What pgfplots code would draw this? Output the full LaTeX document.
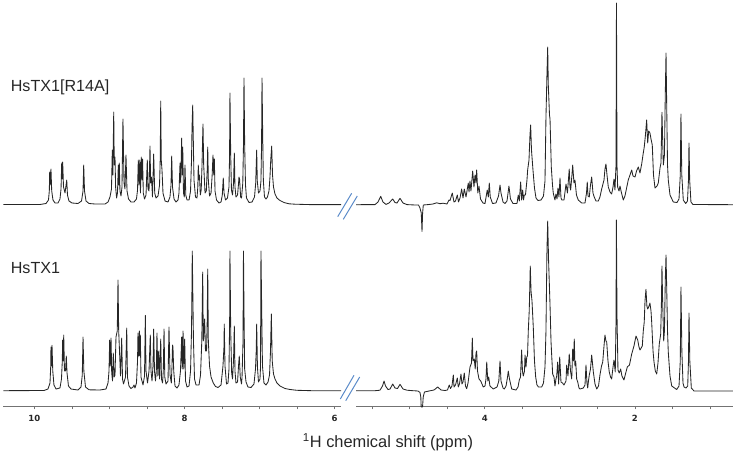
\documentclass[border=0pt]{standalone}
\usepackage{fontspec}
\setmainfont{Liberation Sans}
\newfontfamily\tickfont{DejaVu Sans}
\usepackage{pgfplots}
\usepackage{pgfplotstable}
\pgfplotsset{compat=1.18}
\definecolor{breakblue}{HTML}{5B8BC9}
% upper spectrum HsTX1[R14A]: ppm, height above its own baseline
\pgfplotstableread[row sep=\\]{
ppm h\\
10.413 0.5\\ 9.924 0.5\\ 9.844 1.5\\ 9.811 5\\ 9.800 14\\ 9.795 33\\ 9.787 20\\ 9.778 36\\ 9.768 14\\ 9.751 5\\ 9.724 2\\ 9.684 2\\
9.658 6\\ 9.644 16\\ 9.635 42\\ 9.628 26\\ 9.622 43\\ 9.611 18\\ 9.591 12\\ 9.568 25\\ 9.558 10\\ 9.538 4\\ 9.498 2\\ 9.418 1.5\\
9.371 4\\ 9.351 14\\ 9.342 40\\ 9.331 14\\ 9.311 4\\ 9.271 1.5\\ 9.191 1\\ 9.058 1\\ 9.018 3\\ 8.992 8\\ 8.972 16\\ 8.961 55\\
8.954 30\\ 8.942 93\\ 8.935 40\\ 8.925 48\\ 8.917 18\\ 8.904 7\\ 8.892 12\\ 8.881 40\\ 8.874 20\\ 8.868 42\\ 8.859 14\\ 8.845 9\\
8.832 18\\ 8.819 86\\ 8.805 22\\ 8.792 16\\ 8.779 50\\ 8.765 14\\ 8.745 6\\ 8.712 3\\ 8.672 3\\ 8.639 6\\ 8.625 15\\ 8.615 45\\
8.605 20\\ 8.595 45\\ 8.586 12\\ 8.575 48\\ 8.566 25\\ 8.558 46\\ 8.548 12\\ 8.532 6\\ 8.512 10\\ 8.495 45\\ 8.486 16\\ 8.472 14\\
8.459 59\\ 8.450 22\\ 8.439 28\\ 8.426 8\\ 8.410 51\\ 8.396 12\\ 8.379 7\\ 8.352 9\\ 8.332 20\\ 8.323 45\\ 8.316 104\\ 8.309 45\\
8.299 35\\ 8.286 12\\ 8.259 4\\ 8.219 3\\ 8.193 8\\ 8.179 20\\ 8.170 49\\ 8.159 18\\ 8.139 6\\ 8.113 3\\ 8.086 5\\ 8.073 12\\
8.059 42\\ 8.050 22\\ 8.037 67\\ 8.029 30\\ 8.023 58\\ 8.013 12\\ 8.002 8\\ 7.993 40\\ 7.982 10\\ 7.966 5\\ 7.939 5\\ 7.919 14\\
7.906 45\\ 7.899 78\\ 7.890 100\\ 7.881 60\\ 7.873 25\\ 7.853 8\\ 7.833 7\\ 7.822 18\\ 7.816 40\\ 7.806 25\\ 7.800 30\\ 7.789 10\\
7.777 15\\ 7.766 40\\ 7.757 70\\ 7.753 81\\ 7.744 40\\ 7.736 28\\ 7.726 12\\ 7.709 14\\ 7.697 35\\ 7.690 58\\ 7.682 25\\ 7.666 9\\
7.646 12\\ 7.631 30\\ 7.620 50\\ 7.610 30\\ 7.602 46\\ 7.593 14\\ 7.573 5\\ 7.540 2\\ 7.513 3\\ 7.496 10\\ 7.483 27\\ 7.473 12\\
7.453 5\\ 7.427 7\\ 7.407 18\\ 7.399 50\\ 7.394 112\\ 7.384 50\\ 7.374 15\\ 7.360 10\\ 7.346 22\\ 7.336 52\\ 7.327 18\\ 7.314 8\\
7.293 10\\ 7.279 22\\ 7.274 28\\ 7.266 26\\ 7.252 8\\ 7.240 7\\ 7.223 22\\ 7.214 60\\ 7.207 127\\ 7.198 60\\ 7.187 20\\ 7.174 7\\
7.140 2.5\\ 7.100 3\\ 7.067 8\\ 7.051 22\\ 7.044 40\\ 7.038 55\\ 7.030 24\\ 7.014 12\\ 6.994 14\\ 6.981 24\\ 6.973 60\\ 6.967 127\\
6.958 70\\ 6.949 24\\ 6.934 8\\ 6.914 6\\ 6.894 8\\ 6.874 14\\ 6.861 28\\ 6.850 46\\ 6.838 59\\ 6.827 30\\ 6.814 18\\ 6.794 11\\
6.768 7\\ 6.728 4.5\\ 6.674 2.5\\ 6.608 1.2\\ 6.528 0.8\\ 6.328 0.4\\ 5.915 0.4\\
}\upperleft
\pgfplotstableread[row sep=\\]{
ppm h\\
5.715 0.3\\ 5.462 0.4\\ 5.422 3\\ 5.386 8.7\\ 5.356 3\\ 5.316 0.6\\ 5.276 2\\ 5.226 6\\ 5.196 2.5\\ 5.169 2\\ 5.129 6.7\\ 5.089 2\\
5.036 0.4\\ 4.929 0\\ 4.883 0\\ 4.863 -3\\ 4.846 -8\\ 4.836 -26.5\\ 4.828 -8\\ 4.819 0\\ 4.756 0.4\\ 4.690 1\\ 4.640 2.2\\ 4.597 1.3\\
4.556 1.8\\ 4.503 1\\ 4.477 5\\ 4.463 4.5\\ 4.433 12\\ 4.410 3\\ 4.390 4\\ 4.366 10\\ 4.350 3\\ 4.330 7\\ 4.308 16\\ 4.290 7\\
4.273 16\\ 4.250 8\\ 4.237 14\\ 4.220 22\\ 4.210 13\\ 4.197 24\\ 4.184 14\\ 4.161 34\\ 4.144 18\\ 4.130 30\\ 4.117 22\\ 4.108 35\\
4.093 12\\ 4.077 19\\ 4.057 6\\ 4.024 2\\ 3.997 1.5\\ 3.967 15\\ 3.953 8\\ 3.940 22\\ 3.927 8\\ 3.897 1.5\\ 3.851 2\\ 3.817 9\\
3.797 20\\ 3.784 12\\ 3.757 3\\ 3.731 1.5\\ 3.704 4\\ 3.678 19\\ 3.658 6\\ 3.624 1.5\\ 3.571 1.5\\ 3.554 10\\ 3.540 4\\ 3.522 23\\
3.509 5\\ 3.495 15\\ 3.484 5\\ 3.474 10\\ 3.458 10\\ 3.438 25\\ 3.429 35\\ 3.411 45\\ 3.398 70\\ 3.389 80\\ 3.378 55\\ 3.358 35\\
3.338 17\\ 3.318 7\\ 3.291 4.5\\ 3.251 5\\ 3.218 9\\ 3.198 24\\ 3.185 88\\ 3.172 130\\ 3.162 158\\ 3.154 120\\ 3.138 90\\ 3.131 86\\
3.114 38\\ 3.098 20\\ 3.088 12\\ 3.065 5\\ 3.052 11\\ 3.038 6\\ 3.025 17\\ 3.012 8\\ 2.998 27\\ 2.985 7\\ 2.972 5\\ 2.945 5\\
2.918 21\\ 2.899 12\\ 2.875 36\\ 2.865 18\\ 2.856 15\\ 2.839 30\\ 2.829 40\\ 2.812 22\\ 2.799 25\\ 2.779 10\\ 2.755 5\\ 2.709 2\\
2.665 2\\ 2.645 12\\ 2.635 23\\ 2.625 9\\ 2.608 8\\ 2.592 20\\ 2.576 28\\ 2.559 12\\ 2.542 8\\ 2.519 4\\ 2.488 4\\ 2.466 8\\
2.443 16\\ 2.412 25\\ 2.399 36\\ 2.386 41\\ 2.372 30\\ 2.355 18\\ 2.332 13\\ 2.310 11\\ 2.292 18\\ 2.279 26\\ 2.266 15\\ 2.252 40\\
2.246 202\\ 2.239 40\\ 2.230 18\\ 2.212 14\\ 2.199 19\\ 2.179 12\\ 2.155 5\\ 2.133 9\\ 2.089 25\\ 2.066 30\\ 2.043 35\\ 2.026 29\\
1.999 28\\ 1.979 34\\ 1.955 38\\ 1.933 32\\ 1.910 41\\ 1.893 50\\ 1.876 58\\ 1.860 70\\ 1.844 85\\ 1.830 62\\ 1.817 74\\ 1.800 72\\
1.786 66\\ 1.769 60\\ 1.753 30\\ 1.733 17\\ 1.706 19\\ 1.689 22\\ 1.666 37\\ 1.653 42\\ 1.640 92.7\\ 1.622 40\\ 1.607 50\\ 1.596 110\\
1.586 152\\ 1.577 100\\ 1.566 40\\ 1.556 25\\ 1.533 10\\ 1.489 3\\ 1.440 2.5\\ 1.413 6\\ 1.396 30\\ 1.387 91\\ 1.376 30\\ 1.356 5\\
1.324 1.5\\ 1.300 4\\ 1.287 25\\ 1.280 62\\ 1.271 25\\ 1.254 3\\ 1.227 0.5\\ 0.694 0.3\\
}\upperright
% lower spectrum HsTX1
\pgfplotstableread[row sep=\\]{
ppm h\\
10.413 0.3\\ 9.871 0.5\\ 9.818 2\\ 9.791 8\\ 9.781 25\\ 9.778 44\\ 9.771 25\\ 9.764 45.6\\ 9.754 20\\ 9.738 6\\ 9.711 2\\ 9.658 3\\
9.638 12\\ 9.627 30\\ 9.622 51\\ 9.615 30\\ 9.608 56\\ 9.598 20\\ 9.584 20\\ 9.574 35\\ 9.564 18\\ 9.545 5\\ 9.511 2\\ 9.418 1\\
9.378 4\\ 9.361 16\\ 9.351 54\\ 9.340 20\\ 9.318 4\\ 9.271 1.2\\ 9.125 1\\ 9.045 2\\ 9.018 8\\ 9.005 20\\ 8.996 51\\ 8.988 25\\
8.978 53\\ 8.969 18\\ 8.958 10\\ 8.948 38\\ 8.936 14\\ 8.925 16\\ 8.912 54\\ 8.895 60\\ 8.885 111\\ 8.876 60\\ 8.865 40\\ 8.852 15\\
8.845 30\\ 8.836 53\\ 8.825 12\\ 8.812 7\\ 8.785 14\\ 8.769 63\\ 8.759 14\\ 8.739 5\\ 8.712 2.5\\ 8.685 4\\ 8.672 6\\ 8.659 3\\
8.639 8\\ 8.625 30\\ 8.619 58\\ 8.611 35\\ 8.601 60\\ 8.593 35\\ 8.588 56\\ 8.579 14\\ 8.552 6\\ 8.532 15\\ 8.521 75.6\\ 8.512 20\\
8.492 8\\ 8.472 20\\ 8.455 56\\ 8.446 20\\ 8.432 10\\ 8.419 25\\ 8.410 62\\ 8.399 20\\ 8.386 10\\ 8.375 20\\ 8.366 58\\ 8.355 15\\
8.343 40\\ 8.332 12\\ 8.316 52\\ 8.306 12\\ 8.292 8\\ 8.282 20\\ 8.272 62\\ 8.262 14\\ 8.246 7\\ 8.219 10\\ 8.206 64\\ 8.192 16\\
8.175 8\\ 8.166 25\\ 8.159 46\\ 8.153 44\\ 8.143 20\\ 8.126 5\\ 8.099 3\\ 8.073 6\\ 8.053 20\\ 8.037 54\\ 8.029 22\\ 8.019 60\\
8.009 22\\ 7.997 52\\ 7.986 10\\ 7.966 4\\ 7.939 5\\ 7.919 20\\ 7.906 60\\ 7.899 110\\ 7.896 140\\ 7.889 100\\ 7.880 50\\ 7.866 12\\
7.846 6\\ 7.806 6\\ 7.786 16\\ 7.769 50\\ 7.757 119\\ 7.749 50\\ 7.740 60\\ 7.731 72\\ 7.720 40\\ 7.706 40\\ 7.697 70\\ 7.690 122\\
7.682 50\\ 7.666 25\\ 7.646 14\\ 7.616 8\\ 7.586 4.5\\ 7.553 3.5\\ 7.513 6\\ 7.487 25\\ 7.473 45\\ 7.470 67\\ 7.460 25\\ 7.440 7\\
7.420 8\\ 7.407 22\\ 7.398 70\\ 7.394 140\\ 7.384 60\\ 7.371 18\\ 7.360 12\\ 7.346 32\\ 7.336 65\\ 7.327 20\\ 7.314 8\\ 7.293 9\\
7.280 25\\ 7.270 35\\ 7.257 14\\ 7.240 7\\ 7.233 14\\ 7.220 50\\ 7.214 140\\ 7.207 80\\ 7.198 22\\ 7.180 9\\ 7.154 4\\ 7.114 3.5\\
7.074 7\\ 7.054 22\\ 7.044 40\\ 7.038 67\\ 7.028 24\\ 7.014 9\\ 6.994 12\\ 6.987 24\\ 6.981 140\\ 6.971 80\\ 6.961 25\\ 6.941 8\\
6.914 6\\ 6.887 9\\ 6.867 16\\ 6.854 40\\ 6.843 77\\ 6.831 30\\ 6.814 17\\ 6.794 12\\ 6.768 8\\ 6.728 5\\ 6.661 2.5\\ 6.594 1.5\\
6.501 0.7\\ 6.301 0.3\\ 5.915 0.3\\
}\lowerleft
\pgfplotstableread[row sep=\\]{
ppm h\\
5.715 0.2\\ 5.462 0.3\\ 5.396 0.8\\ 5.362 5\\ 5.342 10\\ 5.322 5\\ 5.289 1.5\\ 5.262 2\\ 5.226 7\\ 5.196 3\\ 5.162 2.5\\ 5.129 6.7\\
5.089 2\\ 5.036 0.8\\ 4.956 0.3\\ 4.889 0\\ 4.863 -1.5\\ 4.852 -6\\ 4.847 -16\\ 4.829 -16\\ 4.820 -6\\ 4.803 -1\\ 4.730 0.2\\ 4.676 1\\
4.627 4\\ 4.583 1\\ 4.530 0.5\\ 4.497 1\\ 4.473 6\\ 4.457 2.5\\ 4.437 5\\ 4.419 16\\ 4.410 4\\ 4.390 6\\ 4.366 13\\ 4.353 4\\
4.337 7\\ 4.317 17\\ 4.304 7\\ 4.290 9\\ 4.273 18\\ 4.257 5\\ 4.241 2.3\\ 4.223 8\\ 4.197 24\\ 4.177 28\\ 4.166 53\\ 4.157 30\\
4.140 32\\ 4.127 22\\ 4.117 38\\ 4.108 40\\ 4.097 20\\ 4.077 12\\ 4.054 10\\ 4.020 4\\ 3.997 5\\ 3.984 12\\ 3.974 29\\ 3.960 10\\
3.948 14\\ 3.931 5\\ 3.887 2\\ 3.837 4\\ 3.813 10\\ 3.797 30\\ 3.784 10\\ 3.757 3\\ 3.740 2\\ 3.717 5\\ 3.697 14\\ 3.687 20\\
3.671 12\\ 3.641 2\\ 3.584 1\\ 3.557 4\\ 3.540 11\\ 3.524 14\\ 3.509 41\\ 3.498 20\\ 3.487 15\\ 3.471 20\\ 3.464 36\\ 3.451 24\\
3.441 34\\ 3.431 35\\ 3.420 61\\ 3.408 80\\ 3.394 125\\ 3.384 100\\ 3.371 90\\ 3.354 64\\ 3.338 30\\ 3.322 14\\ 3.305 6\\ 3.284 4\\
3.242 4\\ 3.218 8\\ 3.198 24\\ 3.185 60\\ 3.172 140\\ 3.162 170\\ 3.150 130\\ 3.131 86\\ 3.118 50\\ 3.109 36\\ 3.096 17\\ 3.078 14\\
3.065 5\\ 3.052 12\\ 3.042 15\\ 3.029 29\\ 3.016 7\\ 3.002 34\\ 2.985 9\\ 2.965 8\\ 2.945 6\\ 2.918 10\\ 2.909 26\\ 2.892 15\\
2.875 37\\ 2.858 20\\ 2.842 12\\ 2.829 42\\ 2.818 30\\ 2.808 52\\ 2.799 25\\ 2.789 30\\ 2.776 12\\ 2.762 9\\ 2.745 3\\ 2.732 2\\
2.688 3\\ 2.665 6\\ 2.652 26\\ 2.639 8\\ 2.629 3\\ 2.619 10\\ 2.608 16\\ 2.592 22\\ 2.576 36\\ 2.554 19\\ 2.532 7\\ 2.509 2\\
2.485 5\\ 2.466 16\\ 2.445 25\\ 2.429 29\\ 2.412 45\\ 2.399 56\\ 2.386 50\\ 2.376 49\\ 2.359 30\\ 2.342 19\\ 2.325 14\\ 2.310 12\\
2.292 24\\ 2.279 31\\ 2.262 19\\ 2.252 70\\ 2.247 171\\ 2.239 76\\ 2.226 21\\ 2.209 18\\ 2.190 22\\ 2.173 15\\ 2.146 11\\ 2.126 17\\
2.102 24\\ 2.073 26\\ 2.043 37\\ 2.013 45\\ 1.986 55\\ 1.963 51\\ 1.946 44\\ 1.933 41\\ 1.917 43\\ 1.902 45\\ 1.889 60\\ 1.876 69\\
1.866 90\\ 1.853 101.7\\ 1.841 85\\ 1.830 82\\ 1.817 84\\ 1.800 88\\ 1.786 80\\ 1.777 69\\ 1.759 40\\ 1.746 29\\ 1.729 20\\ 1.710 17\\
1.693 28\\ 1.676 47\\ 1.657 57\\ 1.648 85\\ 1.640 125\\ 1.631 90\\ 1.617 50\\ 1.607 60\\ 1.596 110\\ 1.586 136\\ 1.576 100\\ 1.566 60\\
1.556 39\\ 1.533 15\\ 1.510 5\\ 1.444 1.5\\ 1.413 5\\ 1.396 30\\ 1.387 104\\ 1.375 40\\ 1.360 8\\ 1.346 4\\ 1.320 3\\ 1.297 5\\
1.287 30\\ 1.280 78\\ 1.269 30\\ 1.249 3\\ 1.213 0\\ 0.694 0\\
}\lowerright
\tikzset{trace/.style={black!85,line width=0.85pt,line join=round,mark=none}}
\begin{document}
\begin{tikzpicture}[x=1pt,y=1pt]
\path[use as bounding box] (0,0) rectangle (736,456);
\begin{axis}[
  at={(3.3pt,49.7pt)},anchor=south west,
  scale only axis,width=729.7pt,height=406.3pt,
  xmin=0.694,xmax=10.413,ymin=49.7,ymax=456,
  x dir=reverse,clip=false,
  axis x line*=bottom,axis y line=none,
  axis line style={color=black!55,line width=0.7pt},
  xtick={2,4,6,8,10},
  minor xtick={1,1.5,2.5,3,3.5,4.5,5,5.5,6.5,7,7.5,8.5,9,9.5},
  tick align=outside,
  major tick length=3pt,minor tick length=3pt,
  every tick/.style={color=black!55,line width=0.6pt},
  /pgf/number format/assume math mode=true,
  xticklabel style={font=\tickfont\bfseries\fontsize{8.5}{9}\selectfont,text=black!85,yshift=-2pt},
  xlabel={\textsuperscript{1}H chemical shift (ppm)},
  every axis x label/.style={at={(axis description cs:0.5272,-0.088)},anchor=center,font=\fontsize{16.4}{18}\selectfont,text=black!85},
]
\addplot[trace] table[x=ppm,y expr=\thisrow{h}+251] {\upperleft};
\addplot[trace] table[x=ppm,y expr=\thisrow{h}+251] {\upperright};
\addplot[trace] table[x=ppm,y expr=\thisrow{h}+65] {\lowerleft};
\addplot[trace] table[x=ppm,y expr=\thisrow{h}+65] {\lowerright};
% break in the axis line and the break marks
\fill[white] (axis cs:5.915,47) rectangle (axis cs:5.715,52.5);
\draw[breakblue,line width=1pt] (axis cs:5.959,239.3) -- (axis cs:5.773,262.7);
\draw[breakblue,line width=1pt] (axis cs:5.884,236.7) -- (axis cs:5.698,260);
\draw[breakblue,line width=1pt] (axis cs:5.924,57) -- (axis cs:5.742,80.7);
\draw[breakblue,line width=1pt] (axis cs:5.852,55.3) -- (axis cs:5.666,79);
\node[anchor=west,inner sep=0pt,font=\fontsize{16.1}{20}\selectfont,text=black!85] at (axis cs:10.315,369) {HsTX1[R14A]};
\node[anchor=west,inner sep=0pt,font=\fontsize{16.1}{20}\selectfont,text=black!85] at (axis cs:10.315,187.5) {HsTX1};
\end{axis}
\end{tikzpicture}
\end{document}
